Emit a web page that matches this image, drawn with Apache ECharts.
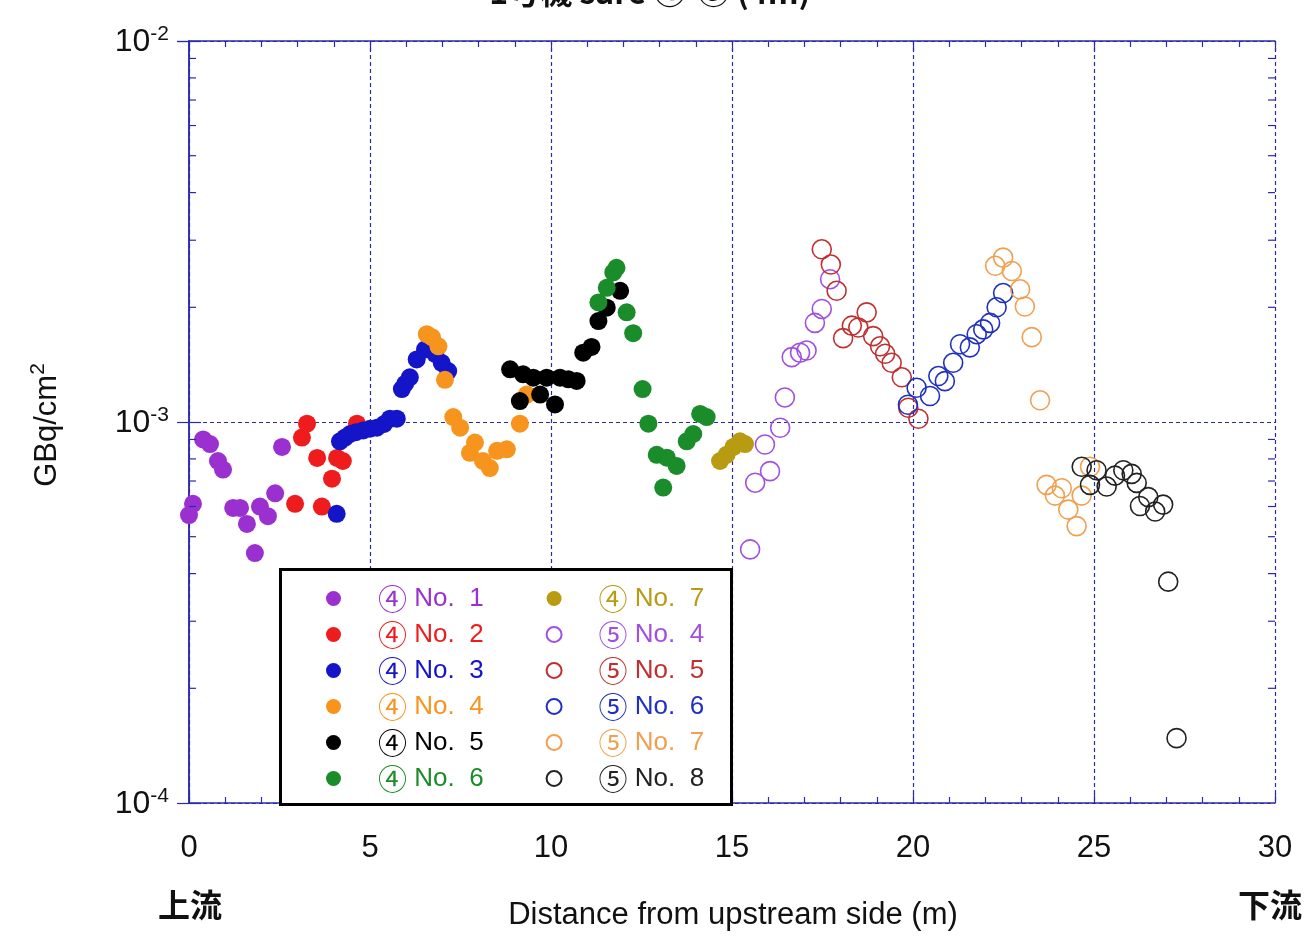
<!DOCTYPE html>
<html>
<head>
<meta charset="utf-8">
<script src="https://cdn.jsdelivr.net/npm/echarts@6/dist/echarts.min.js"></script>
<style>
  html, body { margin: 0; padding: 0; background: #fff; }
  #main { width: 1316px; height: 937px; }
</style>
</head>
<body>
<div id="main"></div>
<script>
// distance (m), GBq/cm2
var no4_1 = [[0.0,0.00057],[0.11,0.00061],[0.39,0.00090],[0.58,0.000875],[0.80,0.00079],[0.94,0.00075],[1.22,0.000595],[1.41,0.000595],[1.60,0.00054],[1.82,0.000453],[1.96,0.00060],[2.18,0.000566],[2.38,0.00065],[2.57,0.00086]];
var no4_2 = [[2.93,0.00061],[3.12,0.00091],[3.26,0.00099],[3.54,0.000805],[3.67,0.00060],[3.95,0.00071],[4.09,0.000805],[4.25,0.00079],[4.64,0.00099]];
var no4_3 = [[4.08,0.000574],[4.17,0.00089],[4.31,0.00091],[4.45,0.00093],[4.61,0.00094],[4.81,0.00095],[5.0,0.00096],[5.19,0.000966],[5.39,0.000988],[5.55,0.00102],[5.74,0.00102],[5.88,0.00122],[5.97,0.00126],[6.10,0.00131],[6.29,0.00146],[6.52,0.00155],[6.80,0.00151],[6.98,0.00143],[7.16,0.00136]];
var no4_4 = [[6.57,0.00170],[6.71,0.00167],[6.89,0.00158],[7.07,0.00129],[7.30,0.00103],[7.49,0.000966],[7.76,0.00083],[7.90,0.000883],[8.12,0.00079],[8.31,0.000757],[8.51,0.00084],[8.78,0.000848],[9.14,0.00099],[9.33,0.00118]];
var no4_5 = [[8.87,0.001375],[9.23,0.001334],[9.51,0.001307],[9.88,0.001307],[10.25,0.001307],[10.48,0.001294],[10.71,0.001282],[9.14,0.001135],[9.70,0.00118],[10.11,0.001112],[10.89,0.00152],[11.12,0.001574],[11.31,0.00184],[11.54,0.001995],[11.91,0.00221]];
var no4_6 = [[11.81,0.00254],[11.72,0.00247],[11.54,0.00225],[11.31,0.00206],[12.09,0.00194],[12.27,0.00171],[12.53,0.00122],[12.69,0.00099],[12.92,0.00082],[13.10,0.000673],[13.20,0.000806],[13.47,0.000767],[13.75,0.00089],[13.93,0.00093],[14.12,0.00105],[14.30,0.00103]];
var no4_7 = [[14.67,0.00079],[14.85,0.00082],[15.04,0.00086],[15.22,0.00089],[15.36,0.000875]];
var no5_4 = [[15.50,0.000463],[15.64,0.000693],[16.05,0.000743],[15.91,0.000873],[16.33,0.000966],[16.46,0.00116],[16.65,0.00148],[16.88,0.00152],[17.06,0.00154],[17.29,0.00182],[17.48,0.00198],[17.71,0.00237]];
var no5_5 = [[17.48,0.00284],[17.73,0.00259],[17.89,0.00221],[18.07,0.00166],[18.31,0.00179],[18.49,0.00177],[18.72,0.00194],[18.90,0.00168],[19.09,0.00158],[19.23,0.00151],[19.41,0.00143],[19.69,0.00131],[19.87,0.00109],[20.15,0.00102]];
var no5_6 = [[19.86,0.00111],[20.10,0.00123],[20.47,0.00117],[20.70,0.00132],[20.88,0.00128],[21.11,0.00143],[21.30,0.00160],[21.57,0.00157],[21.76,0.00170],[21.94,0.00175],[22.13,0.00182],[22.31,0.00200],[22.49,0.00218]];
var no5_7 = [[22.27,0.00257],[22.49,0.00270],[22.73,0.00249],[22.96,0.00223],[23.09,0.00201],[23.28,0.00167],[23.51,0.00114],[23.69,0.000684],[23.92,0.000641],[24.11,0.00067],[24.29,0.000589],[24.52,0.000533],[24.66,0.000641],[24.89,0.000763]];
var no5_8 = [[24.66,0.000763],[25.07,0.000747],[24.89,0.000684],[25.35,0.000677],[25.58,0.000723],[25.81,0.000747],[26.04,0.000731],[26.18,0.000692],[26.27,0.000602],[26.50,0.000635],[26.69,0.000582],[26.91,0.000607],[27.05,0.000381],[27.28,0.000148]];

var seriesNames = ['④ No.  1','④ No.  2','④ No.  3','④ No.  4','④ No.  5','④ No.  6','④ No.  7','⑤ No.  4','⑤ No.  5','⑤ No.  6','⑤ No.  7','⑤ No.  8'];
var seriesData = [no4_1,no4_2,no4_3,no4_4,no4_5,no4_6,no4_7,no5_4,no5_5,no5_6,no5_7,no5_8];
var seriesColors = ['#9b30d0','#ee1c1c','#1414c8','#f7941d','#000000','#1a8c2a','#b89b10','#a050e0','#c03030','#2030c0','#f0a050','#222222'];
var filled = [true,true,true,true,true,true,true,false,false,false,false,false];

// log minor tick values
var minorY = [2e-4,3e-4,4e-4,5e-4,6e-4,7e-4,8e-4,9e-4,2e-3,3e-3,4e-3,5e-3,6e-3,7e-3,8e-3,9e-3];

var chart = echarts.init(document.getElementById('main'));

var axisBlue = '#2a2ab0';
var fontMain = 'Liberation Sans, Arial, sans-serif';

var series = seriesNames.map(function (name, i) {
  return {
    name: name,
    type: 'scatter',
    data: seriesData[i],
    symbol: 'circle',
    symbolSize: filled[i] ? 18 : 19,
    itemStyle: filled[i]
      ? { color: seriesColors[i], opacity: 1 }
      : { color: 'rgba(255,255,255,0)', borderColor: seriesColors[i], borderWidth: 1.6, opacity: 1 },
    z: 3
  };
});

// minor log ticks on both y edges
series.push({
  type: 'custom',
  silent: true,
  data: minorY.map(function (v) { return [0, v]; }),
  renderItem: function (params, api) {
    var l = api.coord([0, api.value(1)]);
    var r = api.coord([30, api.value(1)]);
    var st = { stroke: axisBlue, lineWidth: 1.2 };
    return {
      type: 'group',
      children: [
        { type: 'line', shape: { x1: l[0], y1: l[1], x2: l[0] + 7, y2: l[1] }, style: st },
        { type: 'line', shape: { x1: r[0], y1: r[1], x2: r[0] - 7, y2: r[1] }, style: st }
      ]
    };
  },
  z: 4
});

var legendData = seriesNames.map(function (name, i) {
  return { name: name, textStyle: { color: seriesColors[i] } };
});

var option = {
  backgroundColor: '#fff',
  animation: false,
  grid: { left: 189, right: 41, top: 41, bottom: 134 },
  legend: {
    orient: 'vertical',
    left: 326,
    top: 584,
    height: 225,
    padding: 0,
    itemWidth: 15,
    itemHeight: 15,
    itemGap: 7,
    data: legendData,
    formatter: function (name) {
      return '{g|}{c|' + name.charAt(0) + '}{t|' + name.slice(1) + '}{e|}';
    },
    textStyle: {
      rich: {
        g: { width: 32, lineHeight: 24 },
        c: { fontSize: 29, fontFamily: 'Noto Sans CJK JP, sans-serif', lineHeight: 24 },
        t: { fontSize: 26, fontFamily: 'Liberation Sans Narrow, Liberation Sans, sans-serif', lineHeight: 24 },
        e: { width: 56, lineHeight: 24 }
      }
    },
    z: 10
  },
  xAxis: [
    {
      type: 'value', min: 0, max: 30, interval: 5,
      axisLine: { lineStyle: { color: axisBlue, width: 1.5 } },
      axisTick: { inside: true, length: 10, lineStyle: { color: axisBlue, width: 1.2 } },
      minorTick: { show: true, splitNumber: 5, length: 6, lineStyle: { color: axisBlue, width: 1.2 } },
      axisLabel: { color: '#111', fontSize: 31, fontFamily: fontMain, margin: 30 },
      splitLine: { show: true, lineStyle: { color: axisBlue, type: [4, 3], width: 1.2 } }
    },
    {
      type: 'value', min: 0, max: 30, interval: 5, position: 'top',
      axisLine: { show: true, lineStyle: { color: axisBlue, width: 1.5 } },
      axisTick: { show: true, inside: true, length: 10, lineStyle: { color: axisBlue, width: 1.2 } },
      minorTick: { show: true, splitNumber: 5, length: 6, lineStyle: { color: axisBlue, width: 1.2 } },
      axisLabel: { show: false },
      splitLine: { show: false }
    }
  ],
  yAxis: [
    {
      type: 'log', logBase: 10, min: 1e-4, max: 1e-2,
      axisLine: { show: true, lineStyle: { color: axisBlue, width: 1.5 } },
      axisTick: { show: true, inside: true, length: 12, lineStyle: { color: axisBlue, width: 1.2 } },
      axisLabel: {
        margin: 20,
        formatter: function (v) {
          var e = Math.round(Math.log10(v));
          return '{b|10}{s|' + e + '}';
        },
        rich: {
          b: { fontSize: 32, fontFamily: fontMain, color: '#111', verticalAlign: 'bottom', lineHeight: 34 },
          s: { fontSize: 21, fontFamily: fontMain, color: '#111', verticalAlign: 'top', padding: [0, 0, 14, 0] }
        }
      },
      splitLine: { show: true, lineStyle: { color: axisBlue, type: [4, 3], width: 1.2 } }
    },
    {
      type: 'log', logBase: 10, min: 1e-4, max: 1e-2, position: 'right',
      axisLine: { show: true, lineStyle: { color: axisBlue, width: 1.5 } },
      axisTick: { show: true, inside: true, length: 12, lineStyle: { color: axisBlue, width: 1.2 } },
      axisLabel: { show: false },
      splitLine: { show: false }
    }
  ],
  graphic: [
    {
      type: 'rect', left: 279, top: 568, z: 5,
      shape: { width: 451, height: 235 },
      style: { fill: '#fff', stroke: '#000', lineWidth: 3 }
    },
    {
      type: 'text', x: 650, y: -24,
      style: { text: '1号機 sare ④-⑤ (4m)', font: 'bold 32px Noto Sans CJK JP, sans-serif', fill: '#111', align: 'center', verticalAlign: 'top' }
    },
    {
      type: 'text', x: 45, y: 425, rotation: Math.PI / 2,
      style: {
        text: '{a|GBq/cm}{s|2}', align: 'center', verticalAlign: 'middle',
        rich: {
          a: { fontSize: 31, fontFamily: fontMain, fill: '#111', color: '#111', verticalAlign: 'bottom', lineHeight: 34 },
          s: { fontSize: 21, fontFamily: fontMain, fill: '#111', color: '#111', verticalAlign: 'top', padding: [0, 0, 14, 0] }
        }
      }
    },
    {
      type: 'text', x: 733, y: 915,
      style: { text: 'Distance from upstream side (m)', font: '31px Liberation Sans, Arial, sans-serif', fill: '#111', align: 'center', verticalAlign: 'middle' }
    },
    {
      type: 'text', x: 190, y: 905,
      style: { text: '上流', font: 'bold 32px Noto Sans CJK JP, sans-serif', fill: '#111', align: 'center', verticalAlign: 'middle' }
    },
    {
      type: 'text', x: 1270, y: 905,
      style: { text: '下流', font: 'bold 32px Noto Sans CJK JP, sans-serif', fill: '#111', align: 'center', verticalAlign: 'middle' }
    }
  ],
  series: series
};

option.series.forEach(function (s) { s.xAxisIndex = 0; s.yAxisIndex = 0; });

chart.setOption(option);
</script>
</body>
</html>
